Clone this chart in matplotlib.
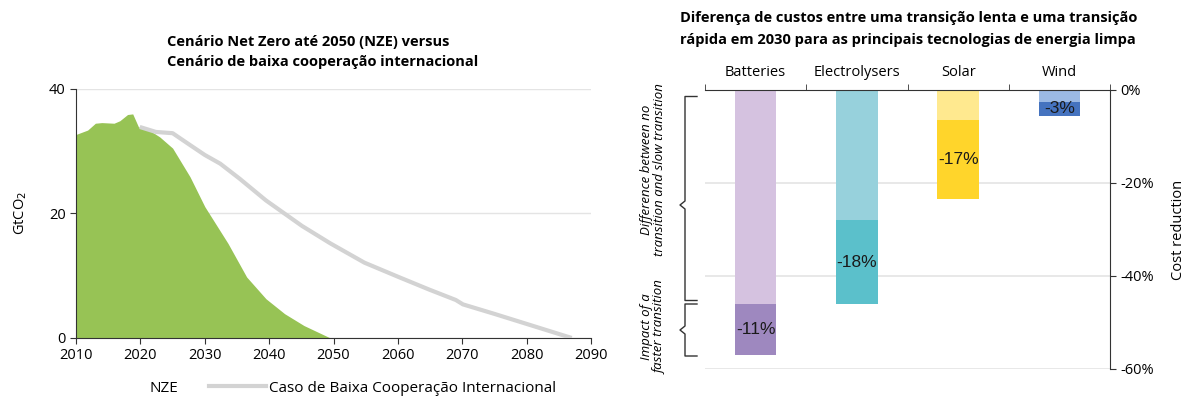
import numpy as np
import matplotlib
matplotlib.use('Agg')
import matplotlib.pyplot as plt
from matplotlib.lines import Line2D
from matplotlib.patches import Patch

plt.rcParams['font.family'] = ['Open Sans', 'DejaVu Sans']

# ── Left panel: CO2 emissions pathways ───────────────────────────────────────
nze_years = [2010, 2011.8, 2013, 2014, 2015.9, 2016.8, 2018, 2018.8, 2019.7,
             2021.2, 2023, 2025, 2027.7, 2030, 2033.6, 2036.5, 2039.5,
             2042.4, 2045.4, 2049.5]
nze_values = [32.7, 33.4, 34.5, 34.6, 34.5, 34.9, 35.9, 36.0, 33.9,
              33.5, 32.3, 30.5, 25.9, 21.1, 15.2, 9.8, 6.3,
              3.9, 2.0, 0.0]

low_coop_years = [2019.9, 2022.4, 2025, 2027.7, 2030, 2032.4, 2035.4, 2039.5,
                  2045.1, 2049.5, 2054.8, 2060.1, 2064.8, 2069, 2070.1,
                  2074.9, 2080.8, 2087]
low_coop_values = [33.9, 33.1, 32.9, 31.0, 29.4, 28.0, 25.6, 22.1,
                   18.0, 15.2, 12.1, 9.8, 7.8, 6.1, 5.4,
                   3.9, 2.0, 0.0]

# ── Right panel: cost reductions in 2030 ─────────────────────────────────────
technologies = ['Batteries', 'Electrolysers', 'Solar', 'Wind']
slow_vs_none = [-46, -28, -6.5, -2.5]     # difference between no and slow transition
faster_impact = [-11, -18, -17, -3]       # impact of a faster transition

light_colors = ['#d5c2e0', '#97d1dc', '#ffe98f', '#9bb9e4']
dark_colors = ['#9e88bf', '#5bc0cb', '#ffd52b', '#4573bf']

fig = plt.figure(figsize=(11.94, 3.98), dpi=100)

# ═════════════════════════════════════════════════════════════════════════════
ax1 = fig.add_axes([0.0637, 0.1508, 0.4313, 0.6256])
ax1.fill_between(nze_years, nze_values, 0, color='#97c355', linewidth=0,
                 zorder=2)
ax1.plot(low_coop_years, low_coop_values, color='#d3d3d3', lw=3,
         solid_capstyle='butt', zorder=3)
ax1.set_xlim(2010, 2090)
ax1.set_ylim(0, 40)
ax1.set_xticks(range(2010, 2091, 10))
ax1.set_yticks([0, 20, 40])
ax1.yaxis.grid(True, color='#e4e4e4', lw=1)
ax1.set_axisbelow(True)
for side in ['top', 'right']:
    ax1.spines[side].set_visible(False)
for side in ['left', 'bottom']:
    ax1.spines[side].set_color('#333333')
ax1.tick_params(labelsize=10.5, length=4, color='#333333')
ax1.set_ylabel('GtCO$_2$', fontsize=10.5, labelpad=14)

fig.text(167 / 1194, 1 - 42 / 398, 'Cenário Net Zero até 2050 (NZE) versus',
         fontsize=10.5, fontweight='bold', va='center', ha='left')
fig.text(167 / 1194, 1 - 62 / 398, 'Cenário de baixa cooperação internacional',
         fontsize=10.5, fontweight='bold', va='center', ha='left')

handles = [Patch(facecolor='none', edgecolor='none'),
           Line2D([], [], color='#d3d3d3', lw=3)]
fig.legend(handles, ['NZE', 'Caso de Baixa Cooperação Internacional'],
           loc='center', bbox_to_anchor=(323 / 1194, 1 - 388 / 398),
           ncol=2, frameon=False, fontsize=11, handlelength=3.7,
           columnspacing=2.0, handletextpad=0.2)

# ═════════════════════════════════════════════════════════════════════════════
ax2 = fig.add_axes([0.5905, 0.0729, 0.3392, 0.7010])
x = np.arange(len(technologies))
ax2.bar(x, slow_vs_none, width=0.41, color=light_colors, zorder=2)
ax2.bar(x, faster_impact, bottom=slow_vs_none, width=0.41, color=dark_colors,
        zorder=2)
for xi, base, val in zip(x, slow_vs_none, faster_impact):
    ax2.text(xi, base + val / 2, f'{val:.0f}%', ha='center', va='center',
             fontsize=12.5, color='#1a1a1a', family='Liberation Sans', zorder=3)

ax2.set_xlim(-0.5, len(technologies) - 0.5)
ax2.set_ylim(-60, 0)
ax2.set_yticks([0, -20, -40, -60])
ax2.set_yticklabels(['0%', '-20%', '-40%', '-60%'])
ax2.yaxis.tick_right()
ax2.yaxis.set_label_position('right')
ax2.set_ylabel('Cost reduction', fontsize=10.5, labelpad=12)
ax2.yaxis.grid(True, color='#e4e4e4', lw=1.2)
ax2.set_axisbelow(True)

ax2.xaxis.tick_top()
ax2.set_xticks(x)
ax2.set_xticklabels(technologies)
ax2.set_xticks(np.arange(-0.5, len(technologies), 1), minor=True)
ax2.tick_params(axis='x', which='major', length=0, pad=7, labelsize=10.5)
ax2.tick_params(axis='x', which='minor', length=4, color='#333333')
ax2.tick_params(axis='y', labelsize=10.5, length=4, color='#333333')
for side in ['left', 'bottom']:
    ax2.spines[side].set_visible(False)
for side in ['top', 'right']:
    ax2.spines[side].set_color('#333333')


# curly brackets drawn in pixel coordinates along the left of the bar chart
def bracket(y_top, y_bot, y_mid):
    xs = [697, 685, 685, 680, 685, 685, 697]
    ys = [y_top, y_top, y_mid - 4, y_mid, y_mid + 4, y_bot, y_bot]
    fig.add_artist(Line2D([v / 1194 for v in xs], [1 - v / 398 for v in ys],
                          color='#333333', lw=1, transform=fig.transFigure))


bracket(96.5, 300.5, 205)
bracket(304, 356, 330)

fig.text(653 / 1194, 1 - 170 / 398,
         'Difference between no\ntransition and slow transition',
         rotation=90, style='italic', fontsize=9.5, ha='center', va='center',
         linespacing=1.05)
fig.text(653 / 1194, 1 - 327 / 398, 'Impact of a\nfaster transition',
         rotation=90, style='italic', fontsize=9.5, ha='center', va='center',
         linespacing=1.05)

fig.text(680 / 1194, 1 - 18 / 398,
         'Diferença de custos entre uma transição lenta e uma transição',
         fontsize=10.5, fontweight='bold', va='center', ha='left')
fig.text(680 / 1194, 1 - 40 / 398,
         'rápida em 2030 para as principais tecnologias de energia limpa',
         fontsize=10.5, fontweight='bold', va='center', ha='left')

fig.savefig('out.png', dpi=100)
